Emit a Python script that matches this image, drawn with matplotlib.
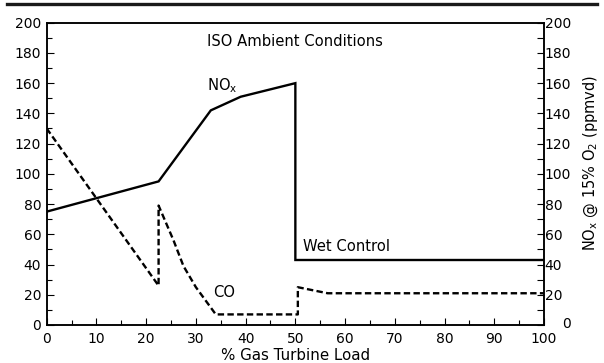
import matplotlib
matplotlib.use("Agg")
import matplotlib.pyplot as plt
from matplotlib.lines import Line2D
from matplotlib.ticker import MultipleLocator
import matplotlib.transforms as mtransforms

plt.rcParams['font.family'] = ['DejaVu Sans']
plt.rcParams['mathtext.fontset'] = 'dejavusans'
plt.rcParams['lines.scale_dashes'] = False

# Data
load_nox = [0, 22.5, 33, 39, 50, 50, 100]
nox = [75, 95, 142, 151, 160, 43, 43]

load_co = [0, 22.5, 22.5, 25.5, 27.5, 30, 34, 50.5, 50.5, 56.5, 100]
co = [130, 26, 79, 56, 39, 25, 7, 7, 25, 21, 21]

x_ticks = list(range(0, 101, 10))
y_ticks = list(range(0, 201, 20))

fig = plt.figure(figsize=(6.04, 3.63), dpi=100)
ax = fig.add_axes([0.0773, 0.1047, 0.8234, 0.8328])

ax.plot(load_nox, nox, color='black', lw=1.7, solid_joinstyle='miter')
ax.plot(load_co, co, color='black', lw=1.7, dashes=[4.6, 2.4])

ax.set_xlim(0, 100)
ax.set_ylim(0, 200)
ax.set_xticks(x_ticks)
ax.set_yticks(y_ticks)
ax.xaxis.set_minor_locator(MultipleLocator(5))
ax.yaxis.set_minor_locator(MultipleLocator(10))
ax.tick_params(which='both', direction='in', width=0.8, labelsize=10)
ax.tick_params(which='major', length=5)
ax.tick_params(which='minor', length=3.5)
ax.tick_params(axis='x', pad=5)
ax.tick_params(axis='y', pad=4)
for s in ax.spines.values():
    s.set_linewidth(1.1)

ax2 = ax.twinx()
ax2.set_ylim(0, 200)
ax2.set_yticks(y_ticks)
ax2.yaxis.set_minor_locator(MultipleLocator(10))
ax2.tick_params(which='both', direction='in', width=0.8, labelsize=10, pad=0.5)
ax2.tick_params(which='major', length=5)
ax2.tick_params(which='minor', length=5)
for s in ax2.spines.values():
    s.set_linewidth(1.1)
# shift the right-hand "0" label clear of the "100" x tick label
lbl0 = ax2.get_yticklabels()[0]
lbl0.set_transform(lbl0.get_transform() +
                   mtransforms.ScaledTranslation(17/100, 2/100, fig.dpi_scale_trans))

ax.set_xlabel('% Gas Turbine Load', fontsize=10.8, labelpad=1.5)
ax2.set_ylabel('NO$_\\mathregular{x}$ @ 15% O$_\\mathregular{2}$ (ppmvd)', fontsize=10.5)
ax2.yaxis.set_label_coords(1.0935, 0.536)
ax2.yaxis.label.set_verticalalignment('center')

ax.text(32.2, 184.8, 'ISO Ambient Conditions', fontsize=10.6, va='baseline')
ax.text(32.3, 155.5, 'NO$_\\mathregular{x}$', fontsize=10.6, va='baseline')
ax.text(51.6, 49, 'Wet Control', fontsize=10.6, va='baseline')
ax.text(33.5, 18.7, 'CO', fontsize=10.6, va='baseline')

# page rule at the top
fig.add_artist(Line2D([7/604, 597/604], [1 - 4/363, 1 - 4/363],
                      color='#1a1a1a', lw=2.4, transform=fig.transFigure))

fig.savefig('out.png', dpi=100)
